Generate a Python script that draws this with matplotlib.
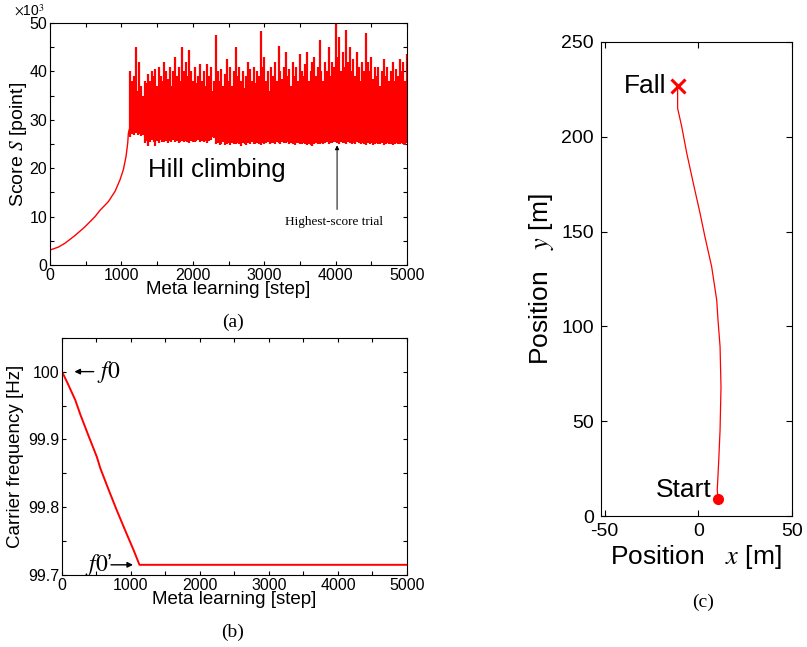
import numpy as np
import matplotlib
matplotlib.use("Agg")
from matplotlib import pyplot as plt
from matplotlib.ticker import MultipleLocator

plt.rcParams['font.family'] = ['Liberation Sans', 'DejaVu Sans']
plt.rcParams['mathtext.fontset'] = 'stix'
plt.rcParams['axes.unicode_minus'] = False

# (a) score: smooth climb before hill climbing starts
climb_step = [0, 117, 210, 350, 490, 630, 700, 817, 910, 980, 1027, 1064, 1088, 1097, 1110, 1125]
climb_score = [3.1, 3.7, 4.5, 6.1, 7.9, 10.0, 11.3, 13.1, 15.2, 17.6, 19.7, 22.4, 25.2, 27.2, 28.0, 28.5]

# (a) score after 1125 steps: max / min per 25-step bin (x10^3)
noise_step = list(range(1125, 5001, 25))
noise_hi = [
    40, 38, 39, 45, 36, 42, 37, 35, 38, 37.5, 39.5, 38, 40, 39, 40.5, 37, 41, 39, 38, 42,
    40, 38.5, 41, 37, 40, 43, 39, 41, 38, 45, 40, 42, 39, 44.5, 40, 38, 41, 37.5, 39, 41.5,
    38, 40, 37, 41.5, 39, 41, 36, 38, 47.5, 40, 38, 40.5, 37, 39.5, 42.5, 38, 41, 37, 40, 45,
    39, 41, 38, 40, 36.5, 39, 42, 40.5, 38, 41, 37.5, 40, 39, 48.3, 41, 43, 38, 40, 36, 41,
    39, 42, 38, 45.3, 40, 38.5, 41, 44, 39, 40.5, 37, 42, 39, 41, 38, 43.5, 40, 39, 41.5, 44,
    38, 40, 42, 43, 39, 41, 46.5, 40, 38, 42, 40, 45, 39, 42, 41, 50, 43, 47, 40, 44,
    41, 48.5, 42, 45, 40, 42.5, 39, 44, 41, 38, 42, 40, 48, 42, 40, 43, 38.5, 41, 39, 41,
    37, 40, 42.5, 39, 41, 38, 40, 42, 38, 40.5, 39, 42.5, 40, 42, 38, 43.5,
]
noise_lo = [
    26.5, 27, 26.8, 27.2, 26.9, 27, 26.6, 26.8, 25.2, 25.6, 24.6, 25.4, 25.8, 25.5, 24.5, 25.6, 25.3, 25.8, 25.5, 25.4,
    25.7, 25.3, 25.6, 25.5, 25.8, 25.4, 25.6, 25.3, 25.5, 25.7, 25.4, 25.6, 25.5, 25.3, 25.7, 25.5, 25.4, 25.6, 25.8, 25.5,
    25.6, 25.4, 25.7, 25.3, 25.6, 25.8, 26.5, 26.2, 24.9, 25.2, 24.8, 25.1, 25.4, 24.7, 25.0, 25.3, 24.8, 25.2, 25.0, 24.9,
    25.3, 25.1, 24.6, 25.2, 25.0, 24.8, 25.3, 25.1, 25.4, 25.0, 24.9, 25.2, 25.1, 24.8, 25.3, 25.0, 25.2, 25.4, 25.1, 25.3,
    25.2, 25.0, 25.4, 25.3, 25.1, 25.5, 25.2, 25.3, 25.4, 25.1, 25.3, 25.0, 24.8, 25.2, 25.3, 25.1, 24.9, 25.2, 25.0, 24.7,
    25.1, 24.8, 24.5, 25.0, 25.2, 24.9, 25.1, 25.3, 25.0, 25.2, 25.4, 25.1, 25.3, 25.2, 25.4, 25.5, 25.3, 25.1, 25.4, 25.2,
    25.3, 25.0, 25.4, 25.2, 24.9, 25.3, 25.1, 25.4, 25.2, 25.0, 25.3, 25.1, 24.8, 25.2, 25.0, 25.3, 24.7, 25.1, 25.2, 24.9,
    25.1, 25.3, 24.8, 25.0, 25.2, 24.9, 25.1, 24.7, 25.0, 25.2, 24.9, 25.1, 25.3, 25.0, 24.8, 25.2,
]

# (b) carrier frequency
freq_step = [0, 72, 193, 265, 386, 506, 554, 675, 796, 940, 1037, 1123, 5000]
freq_hz = [100.0, 99.985, 99.958, 99.937, 99.905, 99.874, 99.858, 99.826, 99.795,
           99.760, 99.737, 99.715, 99.715]

# (c) trajectory, start -> fall
traj_x = [10.6, 10.2, 11.0, 11.7, 12.2, 11.7, 10.6, 9.9, 7.2, 3.6, 1.0, -2.6, -6.1, -8.8, -11.0, -11.0]
traj_y = [9.2, 13.9, 29.7, 45.5, 68.3, 89.4, 103.4, 114, 131.5, 147.3, 159.6, 175.4, 191.2, 205.2, 214.9, 226.6]

red = '#ff0000'
fig = plt.figure(figsize=(8.07, 6.47), dpi=100)


def style(ax, size):
    ax.tick_params(which='both', direction='in', top=True, right=True,
                   length=3, width=0.8, labelsize=size, pad=2)
    for s in ax.spines.values():
        s.set_linewidth(0.8)


# ---- (a)
ax1 = fig.add_axes([0.062, 0.5904, 0.4424, 0.3741])
ax1.plot(climb_step, climb_score, color=red, lw=1.0)
ax1.vlines(noise_step, noise_lo, noise_hi, color=red, lw=1.6)
ax1.set_xlim(0, 5000)
ax1.set_ylim(0, 50)
ax1.xaxis.set_major_locator(MultipleLocator(1000))
ax1.xaxis.set_minor_locator(MultipleLocator(500))
ax1.yaxis.set_major_locator(MultipleLocator(10))
ax1.yaxis.set_minor_locator(MultipleLocator(5))
style(ax1, 11.5)
ax1.set_xlabel('Meta learning [step]', fontsize=13.5, labelpad=-1)
ax1.set_ylabel('Score $S$ [point]', fontsize=14, labelpad=0)
ax1.text(-0.1, 1.03, r'$\times$10$^3$', transform=ax1.transAxes, fontsize=10, ha='left')
ax1.text(2330, 19.7, 'Hill climbing', fontsize=18.5, ha='center', va='center')
ax1.annotate('', xy=(4020, 25.3), xytext=(4020, 10.9),
             arrowprops=dict(arrowstyle='-|>', color='black', lw=0.7, mutation_scale=6))
ax1.text(3970, 8.9, 'Highest-score trial', fontsize=9.5, ha='center', va='center',
         family=['Liberation Serif', 'DejaVu Serif'])

# ---- (b)
ax2 = fig.add_axes([0.0768, 0.1113, 0.4275, 0.3667])
ax2.plot(freq_step, freq_hz, color=red, lw=1.4)
ax2.set_xlim(0, 5000)
ax2.set_ylim(99.7, 100.05)
ax2.xaxis.set_major_locator(MultipleLocator(1000))
ax2.xaxis.set_minor_locator(MultipleLocator(500))
ax2.yaxis.set_major_locator(MultipleLocator(0.1))
ax2.yaxis.set_minor_locator(MultipleLocator(0.05))
ax2.set_yticks([99.7, 99.8, 99.9, 100.0], ['99.7', '99.8', '99.9', '100'])
style(ax2, 11.5)
ax2.set_xlabel('Meta learning [step]', fontsize=13.5, labelpad=-1)
ax2.set_ylabel('Carrier frequency [Hz]', fontsize=13.5, labelpad=3)
ax2.annotate('', xy=(140, 100.0), xytext=(500, 100.0),
             arrowprops=dict(arrowstyle='-|>', color='black', lw=1.0, mutation_scale=8))
ax2.text(510, 100.0, "$f0$", fontsize=17, ha='left', va='center')
ax2.annotate('', xy=(1070, 99.715), xytext=(670, 99.715),
             arrowprops=dict(arrowstyle='-|>', color='black', lw=1.0, mutation_scale=8))
ax2.text(330, 99.715, "$f0$\u2019", fontsize=17, ha='left', va='center')

# ---- (c)
ax3 = fig.add_axes([0.7447, 0.2019, 0.2363, 0.7337])
ax3.plot(traj_x, traj_y, color=red, lw=0.9)
ax3.plot(traj_x[0], traj_y[0], 'o', color=red, ms=7)
ax3.plot(traj_x[-1], traj_y[-1], 'x', color=red, ms=10, mew=2.2)
ax3.set_xlim(-52, 50)
ax3.set_ylim(0, 250)
ax3.set_xticks([-50, 0, 50])
ax3.yaxis.set_major_locator(MultipleLocator(50))
style(ax3, 14)
ax3.tick_params(which='both', length=4, pad=5)
ax3.set_xlabel('Position   $x$ [m]', fontsize=19, labelpad=2)
ax3.set_ylabel('Position   $y$ [m]', fontsize=19, labelpad=4)
ax3.text(traj_x[-1] - 5.8, traj_y[-1], 'Fall', fontsize=19, ha='right', va='center')
ax3.text(traj_x[0] - 3.4, traj_y[0] + 4.7, 'Start', fontsize=19, ha='right', va='center')

serif = ['Liberation Serif', 'DejaVu Serif']
fig.text(233 / 807, 1 - 322 / 647, '(a)', fontsize=14, ha='center', va='center', family=serif)
fig.text(233 / 807, 1 - 632 / 647, '(b)', fontsize=14, ha='center', va='center', family=serif)
fig.text(703 / 807, 1 - 602 / 647, '(c)', fontsize=14, ha='center', va='center', family=serif)

fig.savefig('out.png', dpi=100)
